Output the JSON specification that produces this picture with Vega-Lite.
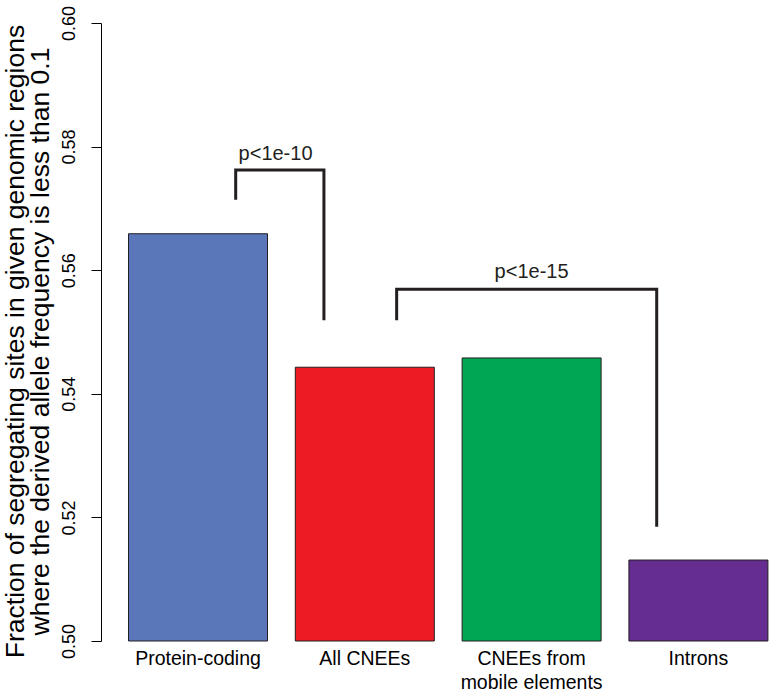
{
  "$schema": "https://vega.github.io/schema/vega-lite/v6.json",
  "width": 672,
  "height": 618,
  "autosize": {"type": "none"},
  "padding": {"left": 101, "top": 23, "right": 0, "bottom": 51},
  "background": "white",
  "config": {"view": {"stroke": null}, "font": "Liberation Sans"},
  "datasets": {
    "bars": [
      {"region": "Protein-coding", "fraction": 0.5659},
      {"region": "All CNEEs", "fraction": 0.5443},
      {"region": "CNEEs from mobile elements", "fraction": 0.5458},
      {"region": "Introns", "fraction": 0.5131}
    ],
    "brackets": [
      {"bracket": "a", "seq": 1, "pos": 1.226, "frac": 0.5714},
      {"bracket": "a", "seq": 2, "pos": 1.226, "frac": 0.5762},
      {"bracket": "a", "seq": 3, "pos": 1.755, "frac": 0.5762},
      {"bracket": "a", "seq": 4, "pos": 1.755, "frac": 0.5519},
      {"bracket": "b", "seq": 1, "pos": 2.191, "frac": 0.5519},
      {"bracket": "b", "seq": 2, "pos": 2.191, "frac": 0.5569},
      {"bracket": "b", "seq": 3, "pos": 3.75, "frac": 0.5569},
      {"bracket": "b", "seq": 4, "pos": 3.75, "frac": 0.5185}
    ],
    "labels": [
      {"label": "p<1e-10", "pos": 1.465, "frac": 0.5778},
      {"label": "p<1e-15", "pos": 3.0, "frac": 0.5587}
    ]
  },
  "layer": [
    {
      "data": {"name": "bars"},
      "mark": {"type": "bar", "stroke": "#231f20", "strokeWidth": 1},
      "encoding": {
        "x": {
          "field": "region",
          "type": "nominal",
          "sort": null,
          "scale": {"paddingInner": 0.1667, "paddingOuter": 0.0977, "align": 0.844},
          "axis": {
            "title": null,
            "domain": false,
            "ticks": false,
            "tickSize": 0,
            "labelPadding": 8,
            "labelAngle": 0,
            "labelFontSize": 19.5,
            "labelFont": "Liberation Sans",
            "labelColor": "black",
            "labelBaseline": "top",
            "labelLineHeight": 24,
            "labelExpr": "datum.label == 'CNEEs from mobile elements' ? ['CNEEs from', 'mobile elements'] : datum.label"
          }
        },
        "y": {
          "field": "fraction",
          "type": "quantitative",
          "scale": {"domain": [0.5, 0.6], "zero": false, "nice": false},
          "axis": {
            "values": [0.5, 0.52, 0.54, 0.56, 0.58, 0.6],
            "format": ".2f",
            "grid": false,
            "labelAngle": -90,
            "labelAlign": "center",
            "labelBaseline": "alphabetic",
            "labelFontSize": 18,
            "labelFont": "Liberation Sans",
            "labelColor": "black",
            "labelPadding": 17,
            "labelFlush": false,
            "tickSize": 10,
            "tickColor": "black",
            "domainColor": "black",
            "title": ["Fraction of segregating sites in given genomic regions", "where the derived allele frequency is less than 0.1"],
            "titleFont": "Liberation Sans",
            "titleFontSize": 26.5,
            "titleFontWeight": "normal",
            "titleColor": "black",
            "titleAngle": -90,
            "titleAlign": "center",
            "titleBaseline": "top",
            "titleLineHeight": 25.5,
            "titleX": -99,
            "titleY": 318
          }
        },
        "y2": {"datum": 0.5},
        "color": {
          "field": "region",
          "type": "nominal",
          "scale": {
            "domain": ["Protein-coding", "All CNEEs", "CNEEs from mobile elements", "Introns"],
            "range": ["#5a78b9", "#ec1c24", "#00a651", "#662d91"]
          },
          "legend": null
        }
      }
    },
    {
      "data": {"name": "brackets"},
      "mark": {"type": "line", "color": "#231f20", "strokeWidth": 3, "strokeJoin": "miter", "strokeCap": "butt"},
      "encoding": {
        "x": {"field": "pos", "type": "quantitative", "scale": {"domain": [0.4185, 4.4472], "nice": false, "zero": false}, "axis": null},
        "y": {"field": "frac", "type": "quantitative"},
        "detail": {"field": "bracket"},
        "order": {"field": "seq", "type": "quantitative"}
      }
    },
    {
      "data": {"name": "labels"},
      "mark": {"type": "text", "font": "Liberation Sans", "fontSize": 20, "align": "center", "baseline": "alphabetic", "color": "#231f20"},
      "encoding": {
        "x": {"field": "pos", "type": "quantitative", "scale": {"domain": [0.4185, 4.4472], "nice": false, "zero": false}, "axis": null},
        "y": {"field": "frac", "type": "quantitative"},
        "text": {"field": "label"}
      }
    }
  ],
  "resolve": {"scale": {"x": "independent"}}
}
